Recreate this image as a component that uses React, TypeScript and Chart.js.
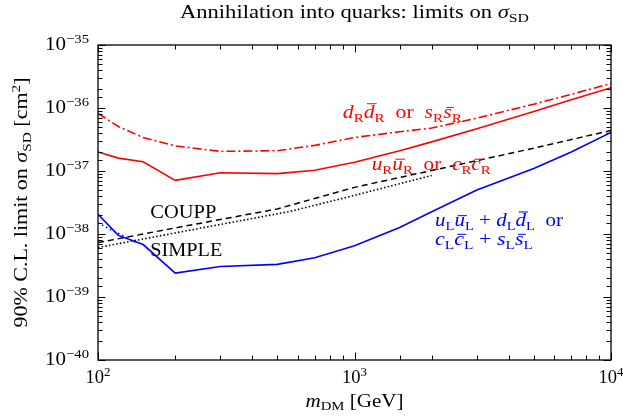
import React, { useEffect, useRef } from "react";
import { Chart, registerables } from "chart.js";

Chart.register(...registerables);

// ---------- data (m_DM in GeV, sigma_SD in cm^2) ----------
const massRed = [100, 120, 150, 200, 300, 500, 700, 1000, 1500, 2000, 3000, 5000, 7000, 10000];
const sigmaRedSolid = [2.0e-37, 1.6e-37, 1.4e-37, 7.1e-38, 9.4e-38, 9.1e-38, 1.03e-37, 1.38e-37, 2.1e-37, 2.9e-37, 4.7e-37, 8.8e-37, 1.35e-36, 2.1e-36];
const sigmaRedDashDot = [8.2e-37, 5.1e-37, 3.4e-37, 2.5e-37, 2.05e-37, 2.1e-37, 2.55e-37, 3.4e-37, 4.2e-37, 4.8e-37, 6.9e-37, 1.15e-36, 1.65e-36, 2.45e-36];

const massBlue = [100, 120, 150, 200, 300, 500, 700, 1000, 1500, 2000, 3000, 5000, 7000, 10000];
const sigmaBlue = [2.05e-38, 9.5e-39, 6.8e-39, 2.4e-39, 3.05e-39, 3.3e-39, 4.2e-39, 6.5e-39, 1.27e-38, 2.25e-38, 5.0e-38, 1.1e-37, 2.0e-37, 4.1e-37];

const massBlueDotted = [100, 140];
const sigmaBlueDotted = [1.5e-38, 7.4e-39];

const massCoupp = [100, 200, 500, 1000, 2000, 5000, 10000];
const sigmaCoupp = [7.3e-39, 1.25e-38, 2.5e-38, 5.5e-38, 1.02e-37, 2.3e-37, 4.4e-37];

const massSimple = [100, 200, 560, 1000, 2000];
const sigmaSimple = [6.1e-39, 1.04e-38, 2.28e-38, 4.1e-38, 8.5e-38];

const xMin = 100;
const xMax = 10000;
const yMin = 1e-40;
const yMax = 1e-35;

// ---------- text helpers ----------
type Part = { t: string; it?: boolean; sub?: boolean; sup?: boolean; bar?: number };
const SERIF = '"Liberation Serif", "Times New Roman", serif';

const partFont = (p: Part, size: number) => {
  const s = p.sub || p.sup ? size * 0.7 : size;
  return `${p.it ? "italic " : ""}${s}px ${SERIF}`;
};

function drawRich(
  ctx: CanvasRenderingContext2D,
  parts: Part[],
  x: number,
  y: number,
  size: number,
  color: string,
  align: "left" | "center" | "right",
  width?: number,
  stretch = 1.08
) {
  ctx.save();
  let nat = 0;
  const ws = parts.map((p) => {
    ctx.font = partFont(p, size);
    const w = ctx.measureText(p.t).width;
    nat += w;
    return w;
  });
  const sx = width ? width / nat : stretch;
  const tot = nat * sx;
  const x0 = align === "left" ? x : align === "center" ? x - tot / 2 : x - tot;
  ctx.translate(x0, y);
  ctx.scale(sx, 1);
  ctx.fillStyle = color;
  ctx.strokeStyle = color;
  ctx.textBaseline = "alphabetic";
  ctx.textAlign = "left";
  let cx = 0;
  parts.forEach((p, i) => {
    ctx.font = partFont(p, size);
    const dy = p.sub ? size * 0.22 : p.sup ? -size * 0.4 : 0;
    ctx.fillText(p.t, cx, dy);
    if (p.bar) {
      ctx.lineWidth = size * 0.055;
      const yb = dy - p.bar * size;
      const sk = p.it ? size * 0.12 : 0;
      ctx.beginPath();
      ctx.moveTo(cx + sk + ws[i] * 0.05, yb);
      ctx.lineTo(cx + sk + ws[i] * 0.95, yb);
      ctx.stroke();
    }
    cx += ws[i];
  });
  ctx.restore();
}

// ---------- annotations (anchored in data coordinates) ----------
const RED = "#ff0000";
const BLUE = "#0000ff";
const annotations: { m: number; s: number; parts: Part[]; color: string; size: number; width: number }[] = [
  { m: 160, s: 1.79e-38, parts: [{ t: "COUPP" }], color: "#000", size: 18.5, width: 66 },
  { m: 160, s: 4.4e-39, parts: [{ t: "SIMPLE" }], color: "#000", size: 18.5, width: 72 },
  {
    m: 900, s: 6.9e-37, color: RED, size: 18.5, width: 119,
    parts: [
      { t: "d", it: true }, { t: "R", sub: true }, { t: "d", it: true, bar: 0.78 }, { t: "R", sub: true },
      { t: "  or  " },
      { t: "s", it: true }, { t: "R", sub: true }, { t: "s", it: true, bar: 0.58 }, { t: "R", sub: true },
    ],
  },
  {
    m: 1167, s: 1.04e-37, color: RED, size: 18.5, width: 119,
    parts: [
      { t: "u", it: true }, { t: "R", sub: true }, { t: "u", it: true, bar: 0.58 }, { t: "R", sub: true },
      { t: "  or  " },
      { t: "c", it: true }, { t: "R", sub: true }, { t: "c", it: true, bar: 0.58 }, { t: "R", sub: true },
    ],
  },
  {
    m: 2060, s: 1.32e-38, color: BLUE, size: 18.5, width: 128,
    parts: [
      { t: "u", it: true }, { t: "L", sub: true }, { t: "u", it: true, bar: 0.58 }, { t: "L", sub: true },
      { t: " + " },
      { t: "d", it: true }, { t: "L", sub: true }, { t: "d", it: true, bar: 0.78 }, { t: "L", sub: true },
      { t: "  or" },
    ],
  },
  {
    m: 2060, s: 6.68e-39, color: BLUE, size: 18.5, width: 98,
    parts: [
      { t: "c", it: true }, { t: "L", sub: true }, { t: "c", it: true, bar: 0.58 }, { t: "L", sub: true },
      { t: " + " },
      { t: "s", it: true }, { t: "L", sub: true }, { t: "s", it: true, bar: 0.58 }, { t: "L", sub: true },
    ],
  },
];

const isMajor = (v: number) => Math.abs(Math.log10(v) - Math.round(Math.log10(v))) < 1e-6;
const expOf = (v: number) => Math.round(Math.log10(v));

const framePlugin = {
  id: "frame",
  afterDraw(chart: any) {
    const { ctx, chartArea: a, scales } = chart;
    const xs = scales.x;
    const ys = scales.y;
    ctx.save();
    // frame
    ctx.strokeStyle = "#000";
    ctx.lineWidth = 1.3;
    ctx.strokeRect(a.left, a.top, a.right - a.left, a.bottom - a.top);
    // inward ticks
    ctx.lineWidth = 1;
    ctx.beginPath();
    xs.ticks.forEach((t: any) => {
      const px = Math.round(xs.getPixelForValue(t.value)) + 0.5;
      const len = isMajor(t.value) ? 7.5 : 4.5;
      ctx.moveTo(px, a.bottom);
      ctx.lineTo(px, a.bottom - len);
      ctx.moveTo(px, a.top);
      ctx.lineTo(px, a.top + len);
    });
    ys.ticks.forEach((t: any) => {
      const py = Math.round(ys.getPixelForValue(t.value)) + 0.5;
      const len = isMajor(t.value) ? 7.5 : 4.5;
      ctx.moveTo(a.left, py);
      ctx.lineTo(a.left + len, py);
      ctx.moveTo(a.right, py);
      ctx.lineTo(a.right - len, py);
    });
    ctx.stroke();

    // tick labels
    xs.ticks.forEach((t: any) => {
      if (!isMajor(t.value)) return;
      const px = xs.getPixelForValue(t.value);
      drawRich(ctx, [{ t: "10" }, { t: String(expOf(t.value)), sup: true }], px, a.bottom + 23, 18.5, "#000", "center", undefined, 1.0);
    });
    ys.ticks.forEach((t: any) => {
      if (!isMajor(t.value)) return;
      const py = ys.getPixelForValue(t.value);
      const e = expOf(t.value);
      const es = e < 0 ? "\u2212" + String(-e) : String(e);
      drawRich(ctx, [{ t: "10" }, { t: es, sup: true }], a.left - 9, py + 5, 18.5, "#000", "right", 44);
    });

    // title
    const cxPlot = (a.left + a.right) / 2;
    drawRich(
      ctx,
      [{ t: "Annihilation into quarks: limits on " }, { t: "\u03c3", it: true }, { t: "SD", sub: true }],
      cxPlot, 18, 19, "#000", "center", 349
    );
    // x title
    drawRich(ctx, [{ t: "m", it: true }, { t: "DM", sub: true }, { t: " [GeV]" }], cxPlot, 406.5, 18, "#000", "center", 98);
    // y title
    ctx.save();
    ctx.translate(27, (a.top + a.bottom) / 2);
    ctx.rotate(-Math.PI / 2);
    drawRich(
      ctx,
      [{ t: "90% C.L. limit on " }, { t: "\u03c3", it: true }, { t: "SD", sub: true }, { t: " [cm" }, { t: "2", sup: true }, { t: "]" }],
      0, 0, 18.5, "#000", "center", 250
    );
    ctx.restore();

    // annotations
    annotations.forEach((an) => {
      const px = xs.getPixelForValue(an.m);
      const py = ys.getPixelForValue(an.s);
      drawRich(ctx, an.parts, px, py, an.size, an.color, "left", an.width);
    });
    ctx.restore();
  },
};

const pts = (xs: number[], ys: number[]) => xs.map((x, i) => ({ x, y: ys[i] }));

export default function App() {
  const ref = useRef<HTMLCanvasElement>(null);
  useEffect(() => {
    const canvas = ref.current;
    if (!canvas) return;
    const base = { pointRadius: 0, pointHoverRadius: 0, fill: false, tension: 0, borderWidth: 1.6 };
    const chart = new Chart(canvas, {
      type: "line",
      data: {
        datasets: [
          { ...base, label: "COUPP", data: pts(massCoupp, sigmaCoupp), borderColor: "#000", borderDash: [6, 4], borderWidth: 1.5 },
          { ...base, label: "SIMPLE", data: pts(massSimple, sigmaSimple), borderColor: "#000", borderDash: [1.5, 2.2], borderWidth: 1.6 },
          { ...base, label: "dR dR or sR sR", data: pts(massRed, sigmaRedDashDot), borderColor: RED, borderDash: [9, 3, 2, 3] },
          { ...base, label: "uR uR or cR cR", data: pts(massRed, sigmaRedSolid), borderColor: RED },
          { ...base, label: "uL uL + dL dL (dotted)", data: pts(massBlueDotted, sigmaBlueDotted), borderColor: BLUE, borderDash: [1.5, 3] },
          { ...base, label: "uL uL + dL dL or cL cL + sL sL", data: pts(massBlue, sigmaBlue), borderColor: BLUE },
        ],
      },
      options: {
        responsive: false,
        animation: false,
        devicePixelRatio: 1,
        parsing: true,
        layout: { padding: { left: 98, right: 12, top: 45, bottom: 58 } },
        plugins: { legend: { display: false }, tooltip: { enabled: false } },
        events: [],
        scales: {
          x: {
            type: "logarithmic",
            min: xMin,
            max: xMax,
            grid: { display: false },
            border: { display: false },
            ticks: { display: false },
            afterFit: (s: any) => { s.height = 0; },
          },
          y: {
            type: "logarithmic",
            min: yMin,
            max: yMax,
            grid: { display: false },
            border: { display: false },
            ticks: { display: false },
            afterFit: (s: any) => { s.width = 0; },
          },
        },
      } as any,
      plugins: [framePlugin],
    });
    return () => chart.destroy();
  }, []);
  return (
    <div style={{ position: "fixed", left: 0, top: 0, width: 623, height: 418, background: "#fff" }}>
      <canvas ref={ref} width={623} height={418} style={{ display: "block", width: 623, height: 418 }} />
    </div>
  );
}
